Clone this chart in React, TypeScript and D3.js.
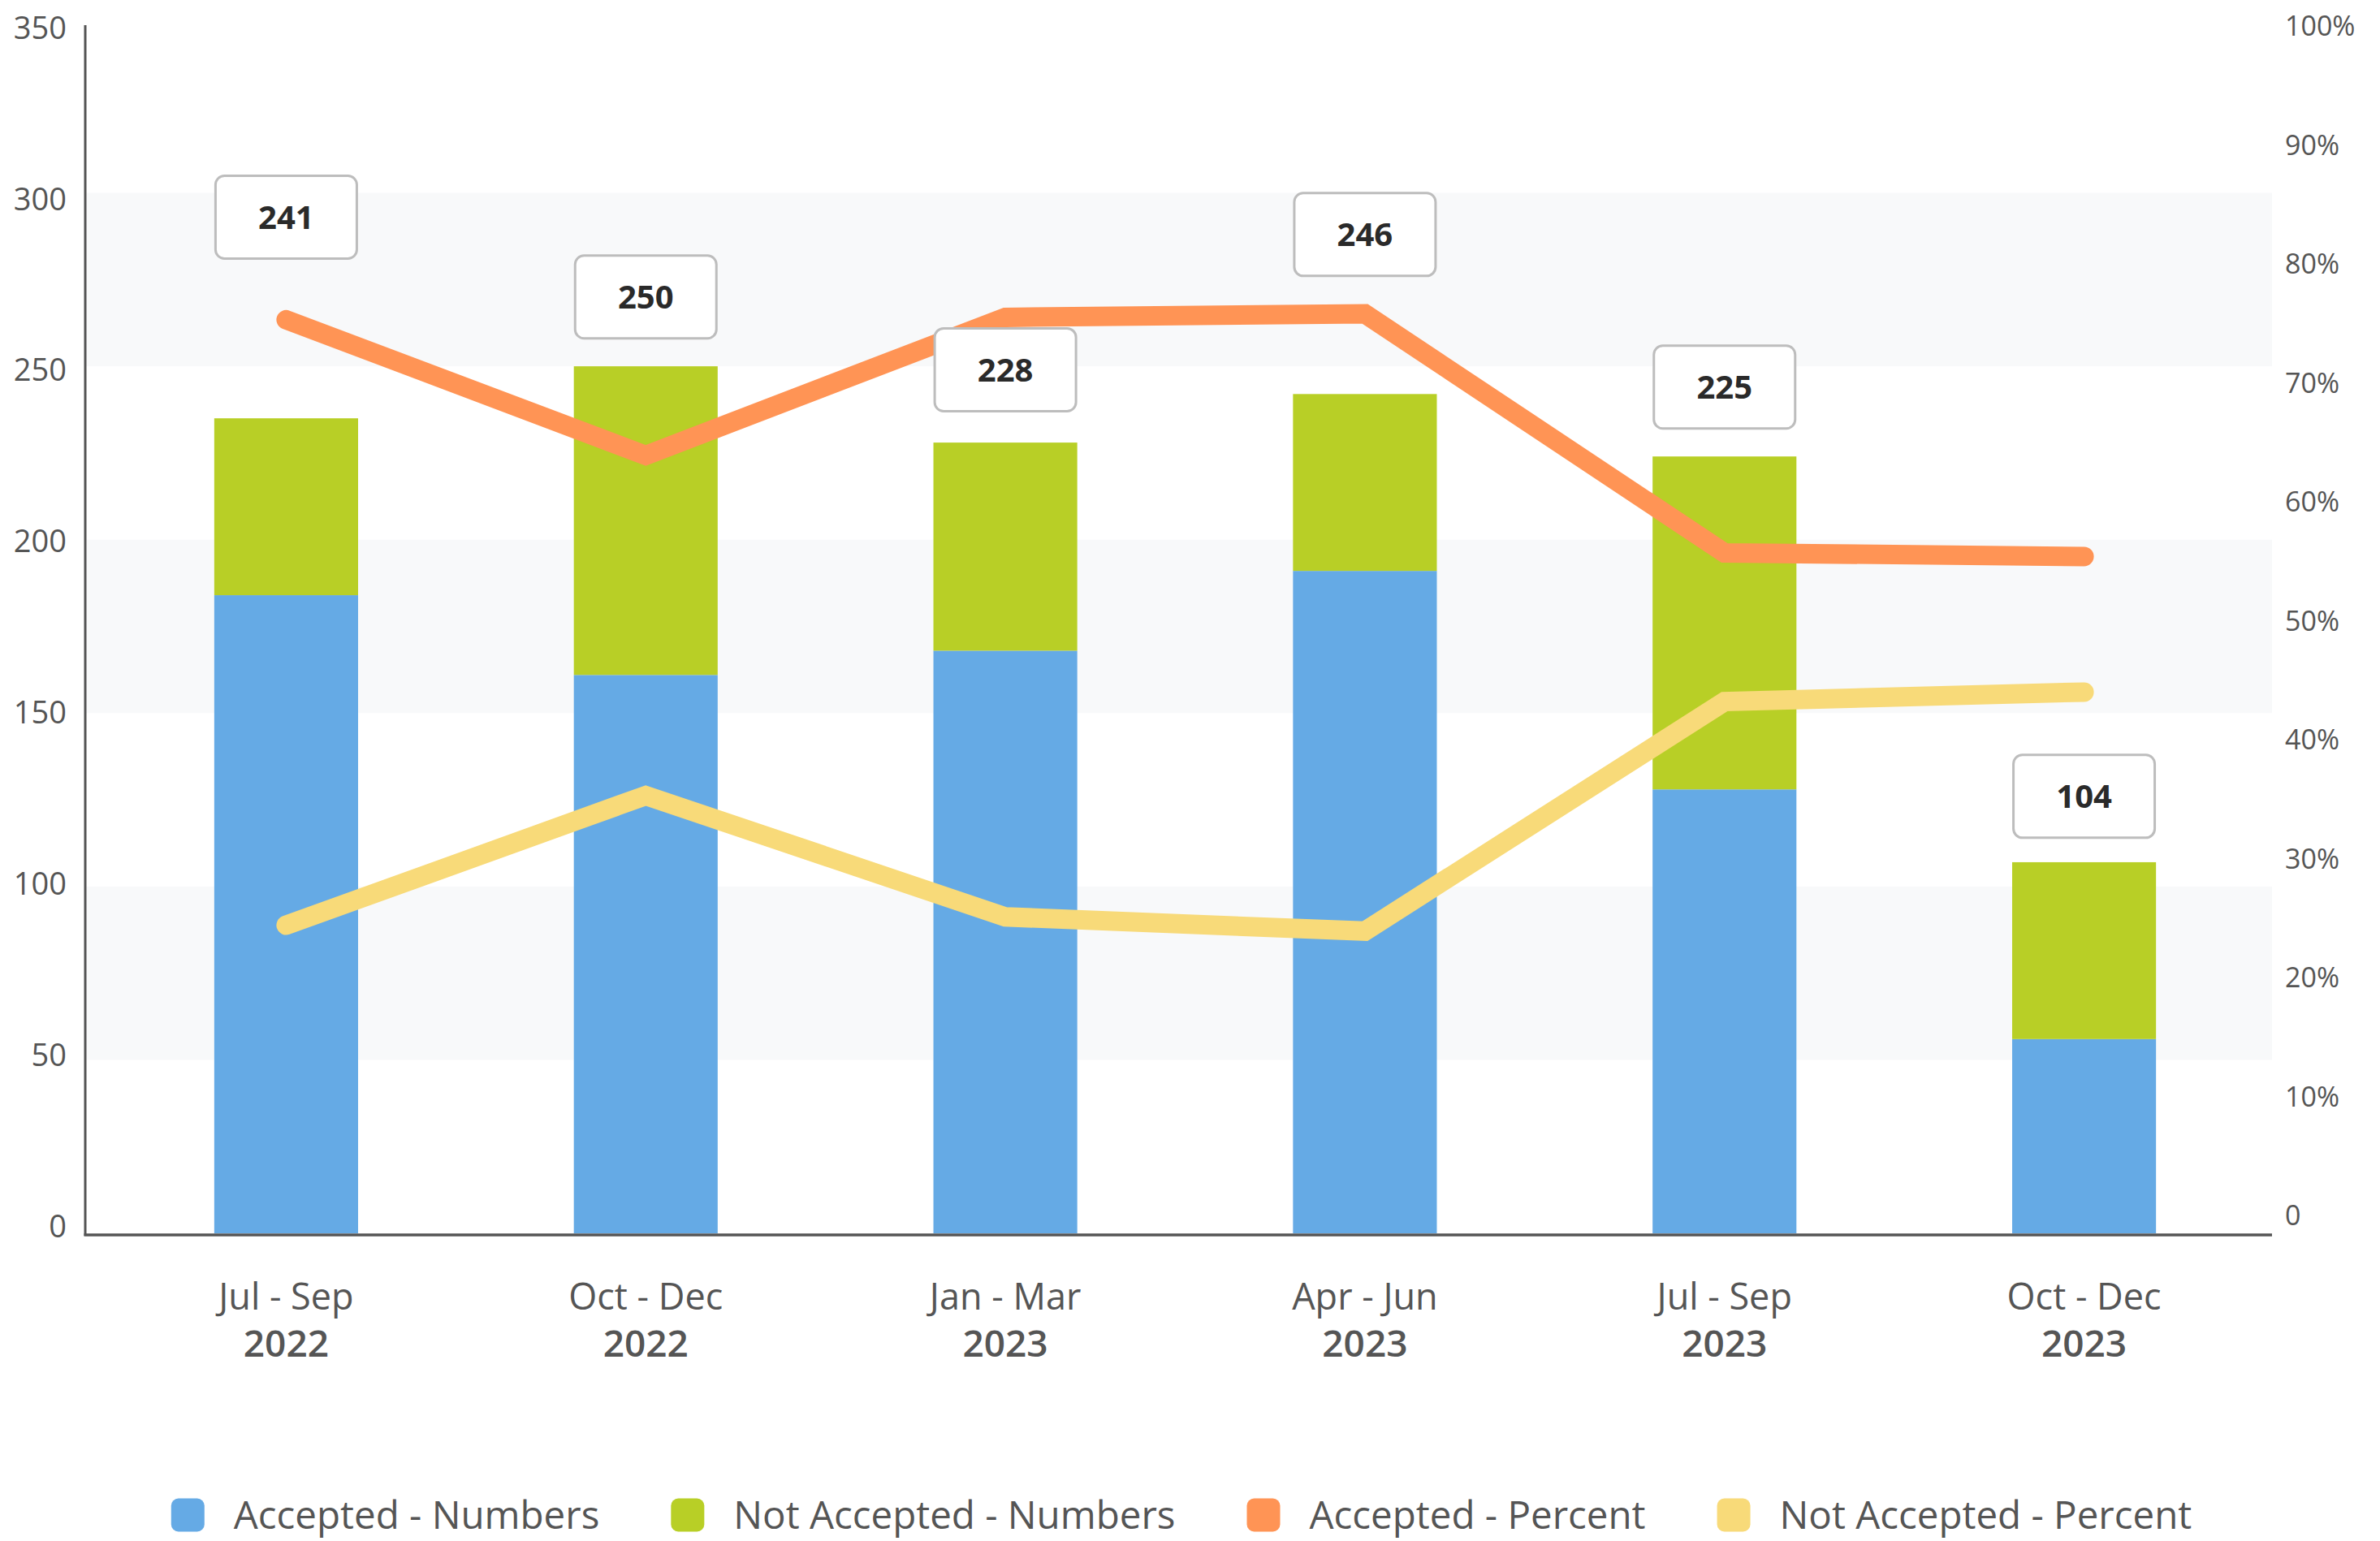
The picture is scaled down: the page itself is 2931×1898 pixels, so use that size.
import React, { useEffect, useRef } from 'react';
import * as d3 from 'd3';

const periods = ['Jul - Sep', 'Oct - Dec', 'Jan - Mar', 'Apr - Jun', 'Jul - Sep', 'Oct - Dec'];
const years = ['2022', '2022', '2023', '2023', '2023', '2023'];
const acceptedNumbers = [184, 161, 168, 191, 128, 56];
const notAcceptedNumbers = [51, 89, 60, 51, 96, 51];
const acceptedPercent = [75.3, 63.9, 75.5, 75.8, 55.7, 55.4];
const notAcceptedPercent = [24.4, 35.3, 25.1, 23.9, 43.2, 44.0];
const totalLabels = [241, 250, 228, 246, 225, 104];
const labelLevels = [293, 270, 249, 288, 244, 126];
const leftTicks = [0, 50, 100, 150, 200, 250, 300, 350];
const rightTicks = [0, 10, 20, 30, 40, 50, 60, 70, 80, 90, 100];
const bandPairs = [[50, 100], [150, 200], [250, 300]];
const seriesNames = ['Accepted - Numbers', 'Not Accepted - Numbers', 'Accepted - Percent', 'Not Accepted - Percent'];
const seriesColors = ['#65aae5', '#b8cf26', '#ff9455', '#f8da79'];

const W = 2931;
const H = 1898;
const FONT = "'Open Sans', 'Noto Sans', sans-serif";

export default function App() {
  const ref = useRef<SVGSVGElement | null>(null);

  useEffect(() => {
    const svg = d3.select(ref.current);
    svg.selectAll('*').remove();

    const plotLeft = 105;
    const plotRight = 2798;
    const x = d3.scaleBand<number>()
      .domain(d3.range(periods.length))
      .range([131, 2788])
      .paddingInner(0.6)
      .paddingOuter(0.3);
    const yL = d3.scaleLinear().domain([0, 350]).range([1519, 24]);
    const yLlab = d3.scaleLinear().domain([0, 350]).range([1510, 34]);
    const yR = d3.scaleLinear().domain([0, 100]).range([1497, 32]);

    // bands
    svg.append('g').selectAll('rect').data(bandPairs).join('rect')
      .attr('x', plotLeft)
      .attr('width', plotRight - plotLeft)
      .attr('y', d => yL(d[1]))
      .attr('height', d => yL(d[0]) - yL(d[1]))
      .attr('fill', '#f8f9fa');

    // bars
    const stackData = periods.map((_, i) => ({ i, a: acceptedNumbers[i], n: notAcceptedNumbers[i] }));
    const stack = d3.stack<any>().keys(['a', 'n'])(stackData);
    stack.forEach((layer, li) => {
      svg.append('g').selectAll('rect').data(layer).join('rect')
        .attr('x', (d: any) => x(d.data.i)!)
        .attr('width', x.bandwidth())
        .attr('y', (d: any) => yL(d[1]))
        .attr('height', (d: any) => yL(d[0]) - yL(d[1]))
        .attr('fill', seriesColors[li]);
    });

    // axes lines
    svg.append('line').attr('x1', plotLeft).attr('x2', plotLeft).attr('y1', 31).attr('y2', 1522)
      .attr('stroke', '#555').attr('stroke-width', 3);
    svg.append('line').attr('x1', plotLeft - 1.5).attr('x2', plotRight).attr('y1', 1521).attr('y2', 1521)
      .attr('stroke', '#555').attr('stroke-width', 3.5);

    // lines
    const cx = (i: number) => x(i)! + x.bandwidth() / 2;
    const line = d3.line<number>().x((_, i) => cx(i)).y(d => yR(d));
    [acceptedPercent, notAcceptedPercent].forEach((arr, k) => {
      svg.append('path').attr('d', line(arr)!)
        .attr('fill', 'none')
        .attr('stroke', seriesColors[2 + k])
        .attr('stroke-width', 24)
        .attr('stroke-linecap', 'round')
        .attr('stroke-linejoin', 'miter');
    });

    // label boxes
    const bw = 174, bh = 102;
    const lg = svg.append('g').selectAll('g').data(totalLabels).join('g')
      .attr('transform', (d, i) => `translate(${cx(i)},${yL(labelLevels[i])})`);
    lg.append('rect')
      .attr('x', -bw / 2).attr('y', -bh / 2).attr('width', bw).attr('height', bh)
      .attr('rx', 11).attr('ry', 11)
      .attr('fill', '#fff').attr('stroke', '#bdbdbd').attr('stroke-width', 3);
    lg.append('text')
      .attr('text-anchor', 'middle')
      .attr('dy', '0.36em')
      .attr('font-family', FONT)
      .attr('font-weight', 700)
      .attr('font-size', 40)
      .attr('fill', '#2a2a2a')
      .text(d => String(d));

    // left tick labels
    svg.append('g').selectAll('text').data(leftTicks).join('text')
      .attr('x', 82)
      .attr('y', d => yLlab(d))
      .attr('dy', '0.36em')
      .attr('text-anchor', 'end')
      .attr('font-family', FONT)
      .attr('font-size', 38)
      .attr('fill', '#555')
      .text(d => String(d));

    // right tick labels
    svg.append('g').selectAll('text').data(rightTicks).join('text')
      .attr('x', 2814)
      .attr('y', d => yR(d))
      .attr('dy', '0.36em')
      .attr('text-anchor', 'start')
      .attr('font-family', FONT)
      .attr('font-size', 34)
      .attr('fill', '#555')
      .text(d => (d === 0 ? '0' : `${d}%`));

    // x labels (two separate lines)
    const xg = svg.append('g')
      .attr('text-anchor', 'middle')
      .attr('font-family', FONT)
      .attr('font-size', 45)
      .attr('fill', '#555');
    xg.selectAll('text.p').data(periods).join('text').attr('class', 'p')
      .attr('x', (_, i) => cx(i)).attr('y', 1613).attr('font-weight', 500).text(d => d);
    xg.selectAll('text.yr').data(years).join('text').attr('class', 'yr')
      .attr('x', (_, i) => cx(i)).attr('y', 1671).attr('font-weight', 600).attr('font-size', 46).text(d => d);

    // legend
    const legend = svg.append('g');
    const sw = 41, gapSwText = 36, gapItems = 88;
    const items = seriesNames.map((name, i) => {
      const g = legend.append('g');
      g.append('rect').attr('width', sw).attr('height', sw).attr('rx', 9).attr('ry', 9)
        .attr('y', -sw / 2).attr('fill', seriesColors[i]);
      const t = g.append('text').attr('x', sw + gapSwText).attr('dy', '0.36em')
        .attr('font-family', FONT).attr('font-size', 47.5).attr('fill', '#555').text(name);
      const tw = (t.node() as SVGTextElement).getComputedTextLength();
      return { g, w: sw + gapSwText + tw };
    });
    const total = d3.sum(items, d => d.w) + gapItems * (items.length - 1);
    let cur = 1455 - total / 2;
    items.forEach(it => {
      it.g.attr('transform', `translate(${cur},1866)`);
      cur += it.w + gapItems;
    });
  }, []);

  return (
    <svg
      ref={ref}
      width={W}
      height={H}
      viewBox={`0 0 ${W} ${H}`}
      style={{ position: 'absolute', left: 0, top: 0, background: '#fff' }}
    />
  );
}
